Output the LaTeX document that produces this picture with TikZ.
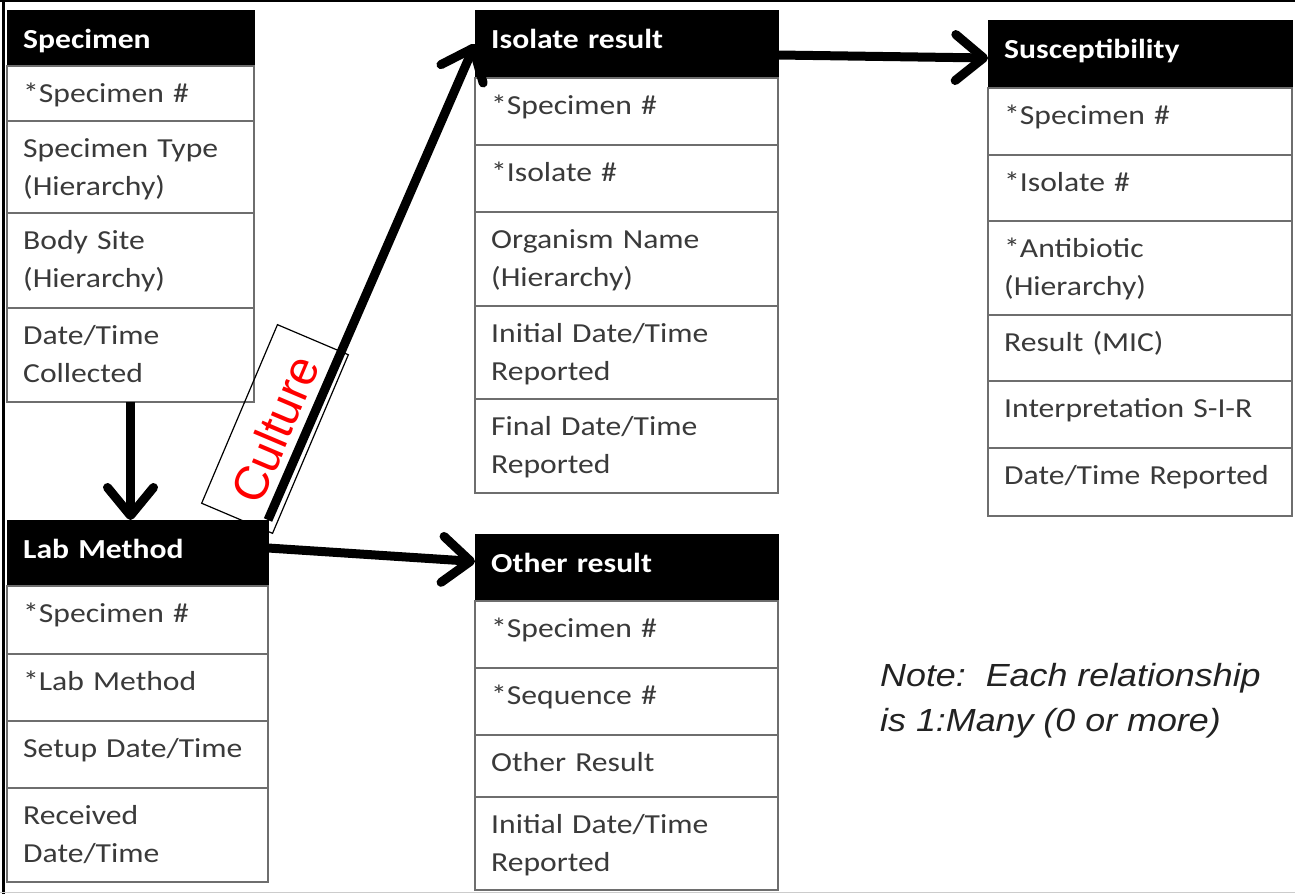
\documentclass[tikz,border=0pt]{standalone}
\usepackage{fontspec}
\usetikzlibrary{arrows.meta}
\newfontfamily\cellfont[FakeStretch=1.15]{Carlito}
\newfontfamily\notefont[FakeStretch=1.12]{Liberation Sans}
\newfontfamily\culfont{Liberation Sans}
\definecolor{celltext}{HTML}{3A3A3A}
\definecolor{cellline}{HTML}{6E6E6E}
\definecolor{notetext}{HTML}{222222}
\tikzset{
  hdrbox/.style={draw=black, fill=black, anchor=north west, outer sep=0pt, inner sep=0pt},
  cellbox/.style={draw=cellline, line width=1.5pt, fill=white, anchor=north west, outer sep=0pt, inner sep=0pt},
  hdrtxt/.style={anchor=base west, inner sep=0pt, text width=260pt, align=left, text=white, font=\cellfont\bfseries\fontsize{27.5}{38}\selectfont},
  celltxt/.style={anchor=base west, inner sep=0pt, text width=270pt, align=left, text=celltext, font=\cellfont\fontsize{27.5}{38}\selectfont},
  spw/.style={minimum width=247pt},
  lmw/.style={minimum width=261pt},
  isw/.style={minimum width=303pt},
  suw/.style={minimum width=304pt},
  conn/.style={line width=9pt, -{Straight Barb[length=28pt,width=46pt,round]}},
  culbox/.style={draw=black, line width=1.2pt, rotate=67, minimum width=194pt, minimum height=77pt, inner sep=0pt, text=red, font=\culfont\fontsize{48}{48}\selectfont},
  notestyle/.style={anchor=north west, inner sep=0pt, align=left, text=notetext, font=\notefont\itshape\fontsize{32}{45}\selectfont},
}
% #1 name, #2 position, #3 height, #4 width style, #5 text
\newcommand\hdrrow[5]{%
  \node[hdrbox,#4,minimum height=#3] (#1) at (#2) {};
  \node[hdrtxt] (#1t) at ([xshift=16pt,yshift=-38pt]#1.north west) {#5};}
\newcommand\cellrow[5]{%
  \node[cellbox,#4,minimum height=#3] (#1) at (#2) {};
  \node[celltxt] (#1t) at ([xshift=16pt,yshift=-36pt]#1.north west) {#5};}
\begin{document}
\begin{tikzpicture}[x=1pt,y=-1pt]
\useasboundingbox (0,0) rectangle (1295,894);
\fill[white] (0,0) rectangle (1295,894);
% frame
\draw[line width=2.5pt] (0,1) -- (1295,1);
\draw[line width=2.5pt] (3.5,0) -- (3.5,894);
\draw[gray!40, line width=1.5pt] (0,892.5) -- (1295,892.5);

% Specimen
\hdrrow{sp0}{7,10}{56pt}{spw}{Specimen}
\cellrow{sp1}{sp0.south west}{55pt}{spw}{*Specimen \#}
\cellrow{sp2}{sp1.south west}{92pt}{spw}{Specimen Type\\(Hierarchy)}
\cellrow{sp3}{sp2.south west}{95pt}{spw}{Body Site\\(Hierarchy)}
\cellrow{sp4}{sp3.south west}{94pt}{spw}{Date/Time\\Collected}

% Lab Method
\hdrrow{lm0}{7,520}{66pt}{lmw}{Lab Method}
\cellrow{lm1}{lm0.south west}{68pt}{lmw}{*Specimen \#}
\cellrow{lm2}{lm1.south west}{67pt}{lmw}{*Lab Method}
\cellrow{lm3}{lm2.south west}{67pt}{lmw}{Setup Date/Time}
\cellrow{lm4}{lm3.south west}{94pt}{lmw}{Received\\Date/Time}

% Isolate result
\hdrrow{is0}{475,10}{68pt}{isw}{Isolate result}
\cellrow{is1}{is0.south west}{67pt}{isw}{*Specimen \#}
\cellrow{is2}{is1.south west}{67pt}{isw}{*Isolate \#}
\cellrow{is3}{is2.south west}{94pt}{isw}{Organism Name\\(Hierarchy)}
\cellrow{is4}{is3.south west}{93pt}{isw}{Initial Date/Time\\Reported}
\cellrow{is5}{is4.south west}{94pt}{isw}{Final Date/Time\\Reported}

% Other result
\hdrrow{or0}{475,534}{67pt}{isw}{Other result}
\cellrow{or1}{or0.south west}{67pt}{isw}{*Specimen \#}
\cellrow{or2}{or1.south west}{67pt}{isw}{*Sequence \#}
\cellrow{or3}{or2.south west}{62pt}{isw}{Other Result}
\cellrow{or4}{or3.south west}{93pt}{isw}{Initial Date/Time\\Reported}

% Susceptibility
\hdrrow{su0}{988,20}{68pt}{suw}{Susceptibility}
\cellrow{su1}{su0.south west}{67pt}{suw}{*Specimen \#}
\cellrow{su2}{su1.south west}{66pt}{suw}{*Isolate \#}
\cellrow{su3}{su2.south west}{94pt}{suw}{*Antibiotic\\(Hierarchy)}
\cellrow{su4}{su3.south west}{66pt}{suw}{Result (MIC)}
\cellrow{su5}{su4.south west}{67pt}{suw}{Interpretation S-I-R}
\cellrow{su6}{su5.south west}{68pt}{suw}{Date/Time Reported}

% Culture label
\node[culbox] (cul) at (275,429) {Culture};

% connectors
\draw[conn] (sp4.south) -- (sp4.south |- lm0.north);
\draw[conn] ([yshift=5pt]lm0.east) -- ([yshift=6pt]or0.west);
\draw[conn] (lm0.north east) -- (is0.west);
\draw[conn] ([yshift=-11pt]is0.east) -- ([yshift=-4pt]su0.west);

% note
\node[notestyle] (note) at (880,663) {Note:\ \ Each relationship\\is 1:Many (0 or more)};
\end{tikzpicture}
\end{document}
